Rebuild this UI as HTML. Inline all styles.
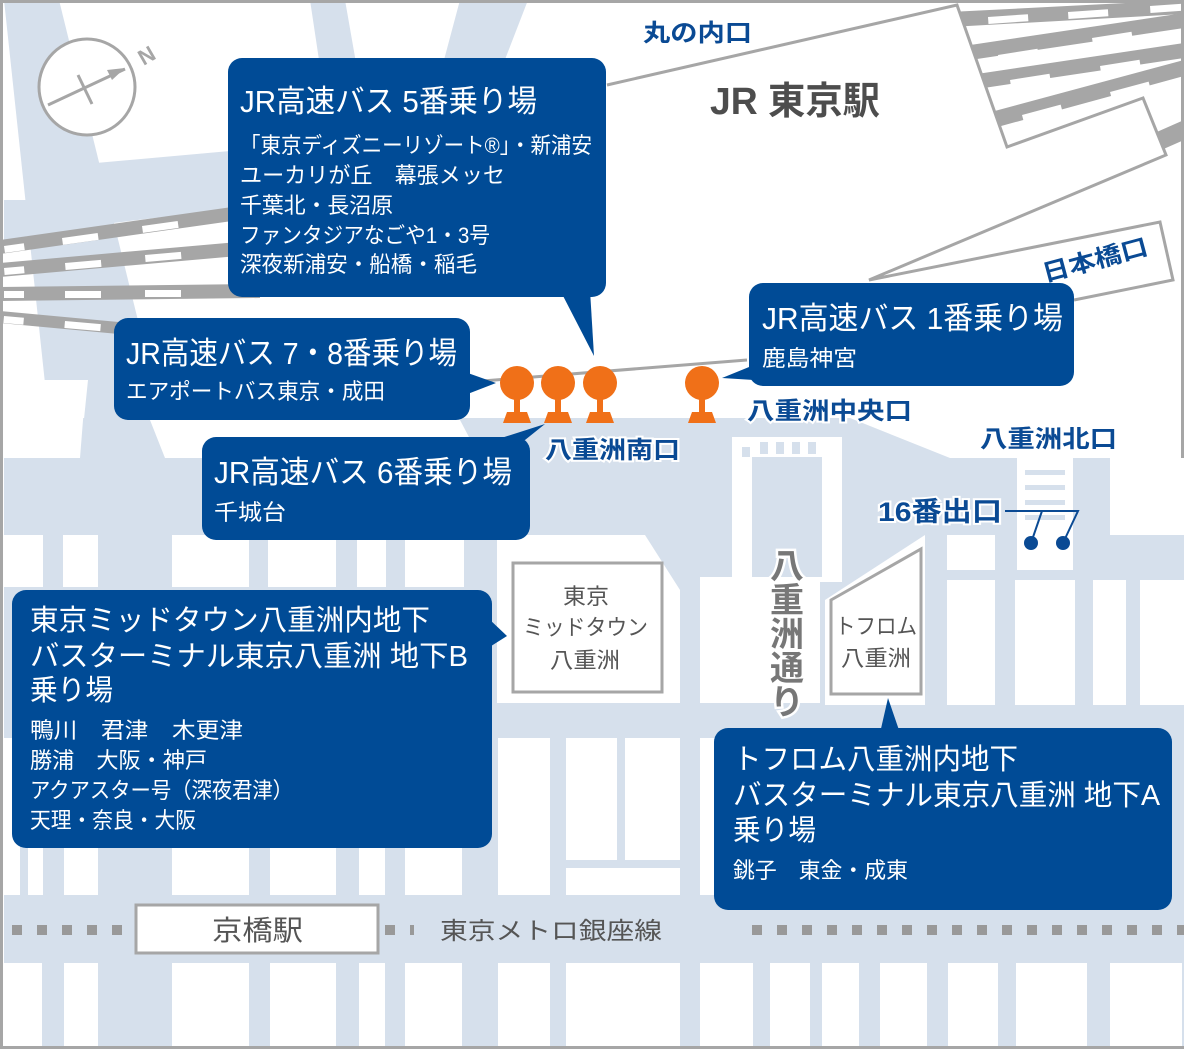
<!DOCTYPE html>
<html><head><meta charset="utf-8"><style>
html,body{margin:0;padding:0;background:#fff}
svg{display:block}
text{font-family:"Liberation Sans","Noto Sans CJK JP",sans-serif}
</style></head><body>
<svg width="1184" height="1049" viewBox="0 0 1184 1049" xmlns="http://www.w3.org/2000/svg">
<defs>
<clipPath id="trR"><polygon points="957,3 1184,3 1184,160 1166,155 1143,98 1007,147"/></clipPath>
<clipPath id="trL"><rect x="0" y="150" width="260" height="200"/></clipPath>
</defs>
<rect width="1184" height="1049" fill="#fff"/>
<!-- top light-blue roads -->
<polygon points="4,0 59,0 165,430 50,430" fill="#d6e0ec"/>
<polygon points="4,200 27,200 27,150 96,163 600,118 600,165 96,225 4,240" fill="#d6e0ec"/>
<polygon points="310,0 345,0 380,200 340,200" fill="#d6e0ec"/>
<polygon points="460,0 528,0 470,150 420,150" fill="#d6e0ec"/>
<polygon points="4,380 88,380 80,458 4,458" fill="#fff"/>
<!-- left tracks -->
<g clip-path="url(#trL)">
<polygon points="0,240 260,203 260,217 0,254" fill="#a6a6a6"/>
<polygon points="0,263 260,240 260,254 0,277" fill="#a6a6a6"/>
<polygon points="0,287 260,284 260,298 0,301" fill="#a6a6a6"/>
<polygon points="0,311 140,324 140,336 0,323" fill="#a6a6a6"/>
<g fill="#fff">
<rect x="4" y="246" width="20" height="7" transform="rotate(-8 4 246)"/>
<rect x="62" y="238" width="36" height="7" transform="rotate(-8 62 238)"/>
<rect x="142" y="226" width="36" height="7" transform="rotate(-8 142 226)"/>
<rect x="4" y="268" width="20" height="7" transform="rotate(-5 4 268)"/>
<rect x="65" y="263" width="36" height="7" transform="rotate(-5 65 263)"/>
<rect x="145" y="255" width="36" height="7" transform="rotate(-5 145 255)"/>
<rect x="4" y="291" width="20" height="7"/>
<rect x="65" y="291" width="36" height="7"/>
<rect x="145" y="290" width="36" height="7"/>
<rect x="4" y="316" width="20" height="7" transform="rotate(5 4 316)"/>
<rect x="65" y="321" width="36" height="7" transform="rotate(5 65 321)"/>
</g></g>
<!-- right tracks -->
<g clip-path="url(#trR)">
<polygon points="950,12 1184,0 1184,14 950,27" fill="#a6a6a6"/>
<polygon points="950,48 1184,13 1184,28 950,63" fill="#a6a6a6"/>
<polygon points="950,78 1184,43 1184,58 950,93" fill="#a6a6a6"/>
<polygon points="950,123 1184,60 1184,76 950,140" fill="#a6a6a6"/>
<polygon points="1150,135 1184,120 1184,140 1150,155" fill="#a6a6a6"/>
<g fill="#fff">
<rect x="988" y="17" width="40" height="7" transform="rotate(-4 988 17)"/>
<rect x="1068" y="12" width="40" height="7" transform="rotate(-4 1068 12)"/>
<rect x="1150" y="6" width="34" height="7" transform="rotate(-4 1150 6)"/>
<rect x="998" y="55" width="40" height="7" transform="rotate(-9 998 55)"/>
<rect x="1092" y="38" width="40" height="7" transform="rotate(-9 1092 38)"/>
<rect x="1010" y="80" width="40" height="7" transform="rotate(-9 1010 80)"/>
<rect x="1100" y="66" width="40" height="7" transform="rotate(-9 1100 66)"/>
<rect x="1022" y="115" width="40" height="7" transform="rotate(-15 1022 115)"/>
<rect x="1110" y="92" width="40" height="7" transform="rotate(-15 1110 92)"/>
</g></g>
<g fill="none" stroke="#a6a6a6" stroke-width="3">
<polyline points="607,85 957,5 1007,147 1143,98 1166,155 869,280 1160,222 1173,280 1074,300"/>
<line x1="470" y1="382" x2="747" y2="360"/>
<rect x="1.5" y="1.5" width="1181" height="1046"/>
</g>
<!-- lower map base -->
<polygon points="4,418 850,418 950,458 1184,458 1184,1046 4,1046" fill="#d6e0ec"/>
<polygon points="4,395 85,395 80,458 4,458" fill="#fff"/>
<polygon points="150,420 460,420 480,458 165,458" fill="#fff"/>
<g fill="#fff">
<rect x="4" y="535" width="39" height="52"/><rect x="63" y="535" width="35" height="52"/>
<rect x="172" y="535" width="77" height="52"/><rect x="268" y="535" width="68" height="52"/>
<rect x="357" y="535" width="29" height="52"/><rect x="405" y="535" width="59" height="52"/>
<polygon points="497,535 645,535 680,590 680,703 497,703"/>
<rect x="700" y="577" width="120" height="126"/>
<polygon points="825,600 925,535 925,705 825,705"/>
<rect x="732" y="437" width="110" height="145"/>
<rect x="947" y="535" width="48" height="35"/><rect x="947" y="580" width="48" height="125"/>
<rect x="1015" y="580" width="60" height="125"/><rect x="1017" y="458" width="56" height="112"/>
<rect x="1093" y="580" width="33" height="125"/><rect x="1110" y="458" width="74" height="77"/>
<rect x="1140" y="580" width="44" height="125"/>
<rect x="4" y="738" width="16" height="157"/><rect x="28" y="738" width="15" height="157"/>
<rect x="64" y="738" width="34" height="157"/><rect x="172" y="738" width="77" height="157"/>
<rect x="270" y="738" width="66" height="157"/><rect x="359" y="738" width="26" height="157"/>
<rect x="405" y="738" width="57" height="157"/><rect x="498" y="738" width="52" height="157"/>
<rect x="566" y="738" width="51" height="122"/><rect x="625" y="738" width="55" height="122"/>
<rect x="566" y="868" width="114" height="27"/><rect x="700" y="738" width="53" height="157"/>
<rect x="4" y="963" width="38" height="83"/><rect x="64" y="963" width="34" height="83"/>
<rect x="172" y="963" width="77" height="83"/><rect x="270" y="963" width="66" height="83"/>
<rect x="359" y="963" width="26" height="83"/><rect x="405" y="963" width="57" height="83"/>
<rect x="498" y="963" width="52" height="83"/><rect x="566" y="963" width="114" height="83"/>
<rect x="700" y="963" width="53" height="83"/><rect x="770" y="963" width="40" height="83"/>
<rect x="822" y="963" width="37" height="83"/><rect x="880" y="963" width="47" height="83"/>
<rect x="948" y="963" width="50" height="83"/><rect x="1016" y="963" width="71" height="83"/>
<rect x="1110" y="963" width="72" height="83"/>
</g>
<rect x="752" y="457" width="70" height="120" fill="#d6e0ec"/>
<g fill="#d6e0ec">
<rect x="742" y="447" width="8" height="10"/><rect x="760" y="442" width="8" height="12"/><rect x="776" y="442" width="8" height="12"/><rect x="792" y="442" width="8" height="12"/><rect x="808" y="442" width="8" height="12"/>
<rect x="1025" y="470" width="40" height="5"/><rect x="1025" y="485" width="40" height="5"/><rect x="1025" y="500" width="40" height="5"/><rect x="1025" y="515" width="40" height="5"/>
</g>
<g fill="#fff">
<rect x="736" y="465" width="14" height="6"/><rect x="736" y="480" width="14" height="6"/><rect x="736" y="495" width="14" height="6"/><rect x="736" y="510" width="14" height="6"/><rect x="736" y="525" width="14" height="6"/><rect x="736" y="540" width="14" height="6"/><rect x="736" y="555" width="14" height="6"/>
<rect x="824" y="465" width="14" height="6"/><rect x="824" y="480" width="14" height="6"/><rect x="824" y="495" width="14" height="6"/><rect x="824" y="510" width="14" height="6"/><rect x="824" y="525" width="14" height="6"/><rect x="824" y="540" width="14" height="6"/><rect x="824" y="555" width="14" height="6"/>
</g>
<rect x="680" y="590" width="20" height="113" rx="10" fill="#d6e0ec"/>
<rect x="513" y="563" width="149" height="129" fill="#fff" stroke="#a6a6a6" stroke-width="3"/>
<polygon points="831,600 921,549 921,694 831,694" fill="#fff" stroke="#a6a6a6" stroke-width="3"/>
<g font-size="22" fill="#555" lengthAdjust="spacingAndGlyphs">
<text x="563" y="604" textLength="46" lengthAdjust="spacingAndGlyphs">東京</text><text x="523" y="635" textLength="125" lengthAdjust="spacingAndGlyphs">ミッドタウン</text><text x="550" y="668" textLength="70" lengthAdjust="spacingAndGlyphs">八重洲</text>
<text x="835" y="634" textLength="82" lengthAdjust="spacingAndGlyphs">トフロム</text><text x="841" y="666" textLength="70" lengthAdjust="spacingAndGlyphs">八重洲</text>
</g>
<g font-size="34" fill="#777" text-anchor="middle" stroke="#fff" stroke-width="5" paint-order="stroke" font-weight="bold">
<text x="787" y="578">八</text><text x="787" y="612">重</text><text x="787" y="646">洲</text><text x="787" y="680">通</text><text x="787" y="714">り</text>
</g>
<g fill="#999">
<rect x="12" y="925" width="10" height="10"/><rect x="37" y="925" width="10" height="10"/><rect x="62" y="925" width="10" height="10"/><rect x="87" y="925" width="10" height="10"/><rect x="112" y="925" width="10" height="10"/>
<rect x="385" y="925" width="10" height="10"/><rect x="410" y="925" width="4" height="10"/>
</g>
<line x1="752" y1="930" x2="1184" y2="930" stroke="#999" stroke-width="10" stroke-dasharray="10 15"/>
<rect x="136" y="905" width="242" height="48" fill="#fff" stroke="#a6a6a6" stroke-width="3"/>
<text x="212" y="940" font-size="28" fill="#555" textLength="91" lengthAdjust="spacingAndGlyphs">京橋駅</text>
<text x="440" y="939" font-size="24" fill="#555" textLength="222" lengthAdjust="spacingAndGlyphs">東京メトロ銀座線</text>
<circle cx="87" cy="87" r="48" fill="#fff" stroke="#a6a6a6" stroke-width="3"/>
<g stroke="#a6a6a6" stroke-width="3"><line x1="48" y1="105" x2="125" y2="69"/><line x1="78" y1="75" x2="92" y2="104"/></g>
<polygon points="125,68 107,70 112,80" fill="#a6a6a6"/>
<text x="140" y="67" font-size="22" font-weight="bold" fill="#a6a6a6" transform="rotate(-30 140 60)">N</text>
<text x="643" y="41" font-size="24" font-weight="bold" fill="#0a4a94" textLength="109" lengthAdjust="spacingAndGlyphs">丸の内口</text>
<text x="710" y="114" font-size="38" font-weight="bold" fill="#4d4d4d" textLength="170" lengthAdjust="spacingAndGlyphs">JR 東京駅</text>
<text x="1045" y="282" font-size="24" font-weight="bold" fill="#0a4a94" transform="rotate(-15 1045 282)" textLength="108" lengthAdjust="spacingAndGlyphs">日本橋口</text>
<g font-size="24" font-weight="bold" fill="#0a4a94" stroke="#fff" stroke-width="4" paint-order="stroke">
<text x="747" y="419" textLength="165" lengthAdjust="spacingAndGlyphs">八重洲中央口</text>
<text x="545" y="458" textLength="135" lengthAdjust="spacingAndGlyphs">八重洲南口</text>
<text x="980" y="447" textLength="137" lengthAdjust="spacingAndGlyphs">八重洲北口</text>
<text x="878" y="521" font-size="27" textLength="124" lengthAdjust="spacingAndGlyphs">16番出口</text>
</g>
<g stroke="#0a4a94" stroke-width="2" fill="none"><polyline points="1005,511 1078,511 1063,543"/><line x1="1042" y1="511" x2="1031" y2="543"/></g>
<circle cx="1031" cy="543" r="7" fill="#0a4a94"/><circle cx="1063" cy="543" r="7" fill="#0a4a94"/>
<g fill="#f07018">
<g id="bs"><circle cx="517" cy="383" r="17"/><rect x="514" y="395" width="6" height="18"/><polygon points="507,412 527,412 531,423 503,423"/></g>
<use href="#bs" x="41"/><use href="#bs" x="83"/><use href="#bs" x="185"/>
</g>
<g fill="#004b96">
<rect x="228" y="58" width="378" height="239" rx="14"/><polygon points="560,290 590,290 594,356"/>
<rect x="114" y="318" width="356" height="102" rx="14"/><polygon points="465,372 465,395 496,383"/>
<rect x="202" y="437" width="328" height="103" rx="14"/><polygon points="495,440 525,440 545,424"/>
<rect x="749" y="283" width="325" height="103" rx="14"/><polygon points="754,365 754,380 722,378"/>
<rect x="12" y="590" width="480" height="258" rx="14"/><polygon points="488,618 488,648 507,636"/>
<rect x="714" y="728" width="458" height="182" rx="14"/><polygon points="880,733 900,733 888,698"/>
</g>
<g fill="#fff">
<text x="240" y="112" font-size="31" textLength="297" lengthAdjust="spacingAndGlyphs">JR高速バス 5番乗り場</text>
<g font-size="22">
<text x="240" y="153" textLength="352" lengthAdjust="spacingAndGlyphs">「東京ディズニーリゾート®」・新浦安</text>
<text x="240" y="183" textLength="265" lengthAdjust="spacingAndGlyphs">ユーカリが丘　幕張メッセ</text>
<text x="240" y="213" textLength="153" lengthAdjust="spacingAndGlyphs">千葉北・長沼原</text>
<text x="240" y="243" textLength="250" lengthAdjust="spacingAndGlyphs">ファンタジアなごや1・3号</text>
<text x="240" y="272" textLength="237" lengthAdjust="spacingAndGlyphs">深夜新浦安・船橋・稲毛</text></g>
<text x="126" y="364" font-size="31" textLength="331" lengthAdjust="spacingAndGlyphs">JR高速バス 7・8番乗り場</text>
<text x="126" y="399" font-size="22" textLength="259" lengthAdjust="spacingAndGlyphs">エアポートバス東京・成田</text>
<text x="214" y="483" font-size="31" textLength="298" lengthAdjust="spacingAndGlyphs">JR高速バス 6番乗り場</text>
<text x="214" y="520" font-size="22" textLength="72" lengthAdjust="spacingAndGlyphs">千城台</text>
<text x="762" y="329" font-size="31" textLength="301" lengthAdjust="spacingAndGlyphs">JR高速バス 1番乗り場</text>
<text x="762" y="366" font-size="22" textLength="95" lengthAdjust="spacingAndGlyphs">鹿島神宮</text>
<g font-size="29">
<text x="30" y="630" textLength="400" lengthAdjust="spacingAndGlyphs">東京ミッドタウン八重洲内地下</text>
<text x="30" y="666" textLength="438" lengthAdjust="spacingAndGlyphs">バスターミナル東京八重洲 地下B</text>
<text x="30" y="700" textLength="83" lengthAdjust="spacingAndGlyphs">乗り場</text></g>
<g font-size="22">
<text x="30" y="738" textLength="213" lengthAdjust="spacingAndGlyphs">鴨川　君津　木更津</text>
<text x="30" y="768" textLength="177" lengthAdjust="spacingAndGlyphs">勝浦　大阪・神戸</text>
<text x="30" y="798" textLength="263" lengthAdjust="spacingAndGlyphs">アクアスター号（深夜君津）</text>
<text x="30" y="828" textLength="166" lengthAdjust="spacingAndGlyphs">天理・奈良・大阪</text></g>
<g font-size="29">
<text x="733" y="769" textLength="285" lengthAdjust="spacingAndGlyphs">トフロム八重洲内地下</text>
<text x="733" y="805" textLength="427" lengthAdjust="spacingAndGlyphs">バスターミナル東京八重洲 地下A</text>
<text x="733" y="840" textLength="83" lengthAdjust="spacingAndGlyphs">乗り場</text></g>
<text x="733" y="878" font-size="22" textLength="175" lengthAdjust="spacingAndGlyphs">銚子　東金・成東</text>
</g>
</svg>
</body></html>
